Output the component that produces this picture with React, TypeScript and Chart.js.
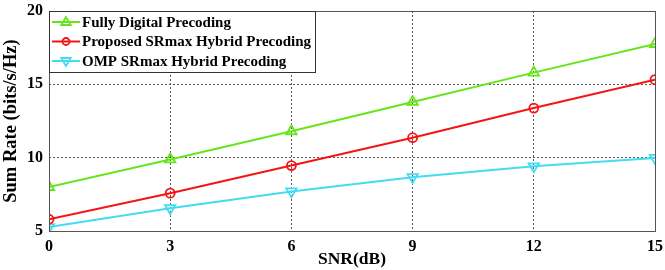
import React, { useEffect, useRef } from "react";
import { Chart, registerables } from "chart.js";

Chart.register(...registerables);

const snr = [0, 3, 6, 9, 12, 15];
const fullyDigital = [8.0, 9.88, 11.8, 13.8, 15.8, 17.75];
const proposedSRmax = [5.8, 7.58, 9.46, 11.36, 13.38, 15.32];
const ompSRmax = [5.27, 6.55, 7.7, 8.67, 9.41, 9.98];
const seriesNames = [
  "Fully Digital Precoding",
  "Proposed SRmax Hybrid Precoding",
  "OMP SRmax Hybrid Precoding",
];
const xTicks = [0, 3, 6, 9, 12, 15];
const yTicks = [5, 10, 15, 20];

const colors = ["#66e61a", "#f51414", "#44dcf0"];
const FONT = "'Liberation Serif', 'Times New Roman', serif";

function drawMarker(ctx: CanvasRenderingContext2D, style: string, rot: number, x: number, y: number, r: number, color: string) {
  ctx.save();
  ctx.strokeStyle = color;
  ctx.lineWidth = 1.8;
  ctx.beginPath();
  if (style === "circle") {
    ctx.arc(x, y, r, 0, Math.PI * 2);
  } else {
    const dir = rot === 180 ? -1 : 1;
    ctx.moveTo(x, y - dir * r);
    ctx.lineTo(x - r * 0.95, y + dir * r * 0.6);
    ctx.lineTo(x + r * 0.95, y + dir * r * 0.6);
    ctx.closePath();
  }
  ctx.stroke();
  ctx.restore();
}

const framePlugin = {
  id: "frameLegend",
  afterDraw(chart: any) {
    const { ctx, chartArea } = chart;
    const { left, top, right, bottom } = chartArea;
    ctx.save();
    ctx.strokeStyle = "#555";
    ctx.lineWidth = 1;
    ctx.strokeRect(left + 0.5, top + 0.5, right - left, bottom - top);
    // legend
    const lx = left, ly = top, lw = 266, lh = 61;
    ctx.fillStyle = "#fff";
    ctx.fillRect(lx + 1, ly + 1, lw, lh);
    ctx.strokeStyle = "#333";
    ctx.strokeRect(lx + 0.5, ly + 0.5, lw, lh);
    const styles = [
      ["triangle", 0],
      ["circle", 0],
      ["triangle", 180],
    ];
    ctx.font = `bold 15px ${FONT}`;
    ctx.textBaseline = "middle";
    ctx.textAlign = "left";
    for (let i = 0; i < seriesNames.length; i++) {
      const cy = ly + 11 + i * 19.5;
      ctx.strokeStyle = colors[i];
      ctx.lineWidth = 2;
      ctx.beginPath();
      ctx.moveTo(lx + 3, cy);
      ctx.lineTo(lx + 31, cy);
      ctx.stroke();
      drawMarker(ctx, styles[i][0] as string, styles[i][1] as number, lx + 17, cy, i === 1 ? 3.5 : 5, colors[i]);
      ctx.fillStyle = "#000";
      ctx.fillText(seriesNames[i], lx + 33, cy + 1);
    }
    ctx.restore();
  },
};

export default function App() {
  const ref = useRef<HTMLCanvasElement>(null);
  useEffect(() => {
    document.body.style.margin = "0";
    const mk = (data: number[]) => data.map((v, i) => ({ x: snr[i], y: v }));
    const chart = new Chart(ref.current!, {
      type: "line",
      data: {
        datasets: [
          {
            label: seriesNames[0],
            data: mk(fullyDigital),
            borderColor: colors[0],
            backgroundColor: "rgba(0,0,0,0)",
            borderWidth: 2,
            pointStyle: "triangle",
            pointRadius: 6,
            pointBorderWidth: 1.8,
            pointBorderColor: colors[0],
          },
          {
            label: seriesNames[1],
            data: mk(proposedSRmax),
            borderColor: colors[1],
            backgroundColor: "rgba(0,0,0,0)",
            borderWidth: 2,
            pointStyle: "circle",
            pointRadius: 4.5,
            pointBorderWidth: 1.8,
            pointBorderColor: colors[1],
          },
          {
            label: seriesNames[2],
            data: mk(ompSRmax),
            borderColor: colors[2],
            backgroundColor: "rgba(0,0,0,0)",
            borderWidth: 2,
            pointStyle: "triangle",
            pointRotation: 180,
            pointRadius: 6,
            pointBorderWidth: 1.8,
            pointBorderColor: colors[2],
          },
        ],
      },
      options: {
        animation: false,
        responsive: false,
        layout: { padding: { top: 11, right: 10, left: 0, bottom: 0 } },
        plugins: { legend: { display: false }, tooltip: { enabled: false } },
        scales: {
          x: {
            type: "linear",
            min: 0,
            max: 15,
            afterBuildTicks: (s: any) => { s.ticks = xTicks.map((v) => ({ value: v })); },
            afterFit: (s: any) => { s.height = 39; s.paddingLeft = 0; s.paddingRight = 0; },
            ticks: { color: "#000", font: { family: FONT, size: 16, weight: "bold" }, padding: 6 },
            grid: { color: "#555", tickLength: 0, drawTicks: false },
            border: { display: false, dash: [2, 2] },
            title: { display: true, text: "SNR(dB)", color: "#000", font: { family: FONT, size: 17.5, weight: "bold" }, padding: { top: -4, bottom: 0 } },
          },
          y: {
            min: 5,
            max: 20,
            afterBuildTicks: (s: any) => { s.ticks = yTicks.map((v) => ({ value: v })); },
            afterFit: (s: any) => { s.width = 49; s.paddingTop = 0; s.paddingBottom = 0; },
            ticks: { color: "#000", font: { family: FONT, size: 16, weight: "bold" }, padding: 6 },
            grid: { color: "#555", drawTicks: false },
            border: { display: false, dash: [2, 2] },
            title: { display: true, text: "Sum Rate (bits/s/Hz)", color: "#000", font: { family: FONT, size: 18.5, weight: "bold" }, padding: { top: 0, bottom: 0 } },
          },
        },
      } as any,
      plugins: [framePlugin],
    });
    return () => chart.destroy();
  }, []);
  return <canvas ref={ref} width={665} height={270} style={{ display: "block" }} />;
}
